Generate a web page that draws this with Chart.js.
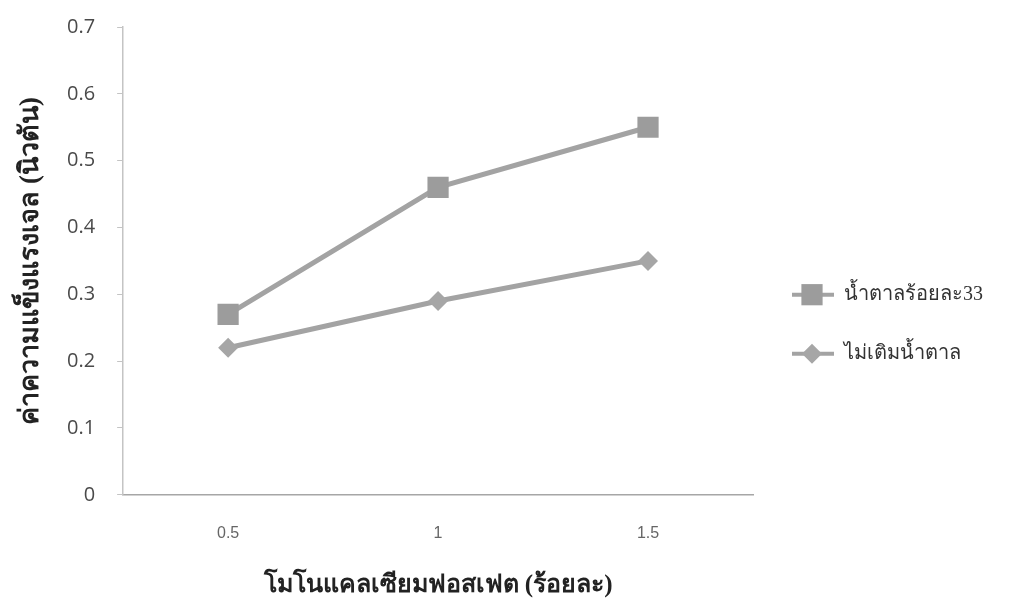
<!DOCTYPE html>
<html>
<head>
<meta charset="utf-8">
<script src="https://cdn.jsdelivr.net/npm/chart.js@4/dist/chart.umd.min.js"></script>
<style>
  html, body { margin: 0; padding: 0; background: #fff; }
  #wrap { width: 1011px; height: 605px; }
</style>
</head>
<body>
<div id="wrap"><canvas id="c"></canvas></div>
<script>
const categories = ["0.5", "1", "1.5"];
const sugar33 = [0.27, 0.46, 0.55];
const noSugar = [0.22, 0.29, 0.35];
const seriesNames = ["น้ำตาลร้อยละ33", "ไม่เติมน้ำตาล"];
const yTitle = "ค่าความแข็งแรงเจล (นิวตัน)";
const xTitle = "โมโนแคลเซียมฟอสเฟต (ร้อยละ)";

const lineGray = "#a3a3a3";
const thaiSerif = "'Liberation Serif', 'Times New Roman', serif";

// draws the marker on top of the legend's line-shaped box
const legendMarkers = {
  id: "legendMarkers",
  afterDraw(chart) {
    const legend = chart.legend;
    if (!legend || !legend.legendHitBoxes) return;
    const ctx = chart.ctx;
    const boxW = legend.options.labels.boxWidth;
    legend.legendHitBoxes.forEach((hb, i) => {
      const ds = chart.data.datasets[i];
      const cx = hb.left + boxW / 2 - 1;
      const cy = hb.top + hb.height / 2;
      const r = ds.pointRadius;
      ctx.save();
      ctx.fillStyle = ds.pointBackgroundColor;
      ctx.beginPath();
      if (ds.pointStyle === "rect") {
        const s = r * Math.SQRT1_2;
        ctx.rect(cx - s, cy - s, 2 * s, 2 * s);
      } else {
        ctx.moveTo(cx, cy - r);
        ctx.lineTo(cx + r, cy);
        ctx.lineTo(cx, cy + r);
        ctx.lineTo(cx - r, cy);
        ctx.closePath();
      }
      ctx.fill();
      ctx.restore();
    });
  },
};

new Chart(document.getElementById("c"), {
  type: "line",
  plugins: [legendMarkers],
  data: {
    labels: categories,
    datasets: [
      {
        label: seriesNames[0],
        data: sugar33,
        borderColor: lineGray,
        backgroundColor: lineGray,
        borderWidth: 5,
        pointStyle: "rect",
        pointRadius: 15,
        pointBackgroundColor: "#9c9c9c",
        pointBorderWidth: 0,
        tension: 0,
      },
      {
        label: seriesNames[1],
        data: noSugar,
        borderColor: lineGray,
        backgroundColor: lineGray,
        borderWidth: 5,
        pointStyle: "rectRot",
        pointRadius: 10,
        pointBackgroundColor: "#a6a6a6",
        pointBorderWidth: 0,
        tension: 0,
      },
    ],
  },
  options: {
    animation: false,
    responsive: true,
    maintainAspectRatio: false,
    layout: {
      autoPadding: false,
      padding: { top: 27, bottom: 4, left: 18, right: 18 },
    },
    plugins: {
      tooltip: { enabled: false },
      legend: {
        position: "right",
        title: {
          display: true,
          text: "",
          padding: { top: 6, bottom: 0 },
        },
        labels: {
          boxWidth: 42,
          boxHeight: 4,
          padding: 39,
          color: "#333",
          font: { family: thaiSerif, size: 20 },
          generateLabels(chart) {
            return chart.data.datasets.map((ds, i) => ({
              text: ds.label,
              fillStyle: lineGray,
              strokeStyle: lineGray,
              lineWidth: 0,
              hidden: false,
              datasetIndex: i,
              fontColor: "#333",
            }));
          },
        },
      },
    },
    scales: {
      x: {
        offset: true,
        border: { color: "#a6a6a6", width: 1.5 },
        grid: { display: false },
        ticks: {
          color: "#666",
          padding: 21,
          font: { family: "'Liberation Sans', Arial, sans-serif", size: 16 },
        },
        title: {
          display: true,
          text: xTitle,
          color: "#222",
          padding: { top: 7, bottom: 0 },
          font: { family: thaiSerif, size: 25, weight: "bold" },
        },
      },
      y: {
        min: 0,
        max: 0.7,
        border: { color: "#c4c4c4", width: 1.5 },
        grid: {
          display: true,
          drawOnChartArea: false,
          drawTicks: true,
          tickLength: 6,
          color: "#c4c4c4",
        },
        ticks: {
          stepSize: 0.1,
          color: "#4a4a4a",
          padding: 22,
          font: { family: "'Open Sans', sans-serif", size: 20, lineHeight: 0.5 },
          callback: (v) => (Math.round(v * 10) / 10).toString(),
        },
        title: {
          display: true,
          text: yTitle,
          color: "#222",
          padding: { top: 0, bottom: 0 },
          font: { family: thaiSerif, size: 27, weight: "bold", lineHeight: 1.0 },
        },
      },
    },
  },
});
</script>
</body>
</html>
